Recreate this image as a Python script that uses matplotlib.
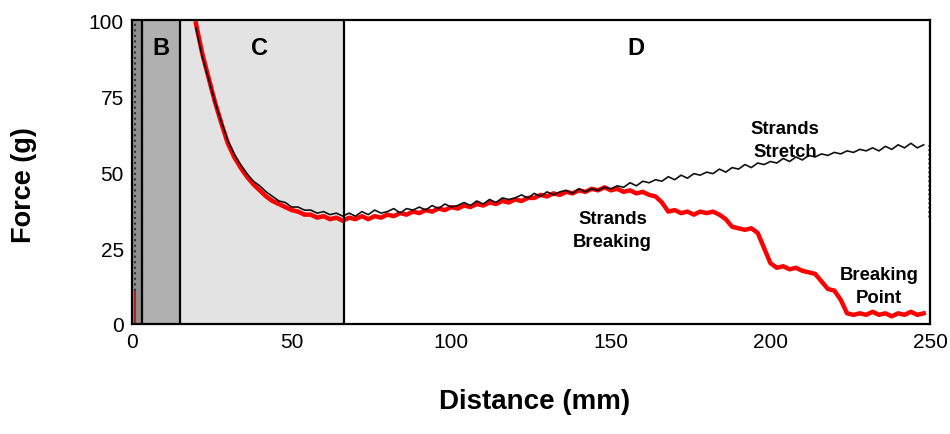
import matplotlib.pyplot as plt
import numpy as np

plt.rcParams['font.family'] = ['Liberation Sans', 'DejaVu Sans']

# distance grid (mm) for the two traces
dist = np.arange(20, 250, 2)

black_force = [97.5, 88.0, 80.5, 73.0, 66.5, 60.5, 56.0, 52.5, 49.5, 47.0,
               45.5, 43.5, 42.0, 40.5, 40.0, 38.5, 38.5, 37.5, 37.5, 36.5,
               37.0, 36.0, 36.5, 35.5, 36.5, 35.5, 37.0, 36.0, 37.5, 36.5,
               37.0, 38.0, 36.5, 38.0, 37.5, 38.5, 37.5, 39.0, 38.0, 39.5,
               38.5, 39.0, 40.0, 39.0, 40.5, 39.5, 41.0, 40.0, 41.5, 41.0,
               41.5, 42.5, 41.5, 43.0, 42.0, 43.5, 42.5, 43.5, 44.0, 43.0,
               44.5, 43.5, 44.5, 44.0, 45.0, 44.5, 45.5, 45.0, 46.5, 45.5,
               47.0, 46.5, 47.5, 47.0, 48.5, 47.5, 49.0, 48.0, 49.5, 49.0,
               50.0, 49.5, 51.0, 50.0, 51.5, 51.0, 52.5, 51.5, 53.0, 52.5,
               53.5, 53.0, 54.5, 53.5, 55.0, 54.0, 55.5, 55.0, 56.0, 55.5,
               56.5, 56.0, 57.0, 56.5, 57.5, 57.0, 58.0, 57.0, 58.5, 57.5,
               59.0, 58.0, 59.5, 58.0, 59.0]

red_force = [99, 89, 81, 73, 66, 59.5, 55, 51.5, 48.5, 46,
             44, 42, 40.5, 39.5, 38.5, 37.5, 37, 36, 36, 35,
             35.5, 34.5, 35, 34, 35, 34.5, 35.5, 34.5, 35.5, 35,
             36, 35.5, 36.5, 36, 37, 36.5, 37.5, 37, 38, 37.5,
             38.5, 38, 39, 38.5, 39.5, 39, 40, 39.5, 40.5, 40,
             41, 40.5, 41.5, 41.5, 42.5, 42, 43, 42.5, 43.5, 43,
             44, 43.5, 44.5, 44, 45, 44, 44.5, 43.5, 44, 43,
             43.5, 42.5, 42, 40, 37, 37.5, 36.5, 37, 36, 37,
             36.5, 37, 36, 34.5, 32, 31.5, 31, 31.5, 30, 25,
             20, 18.5, 19, 18, 18.5, 17.5, 17, 16.5, 14, 11.5,
             11, 8, 3.5, 3, 3.5, 3, 4, 3, 3.5, 2.5,
             3.5, 3, 4, 3, 3.5]

# loading spikes at the start and unloading drop at the end
start_x = [1.0, 1.0]
start_black = [0, 100]
start_red = [0, 10.5]
end_x = [249.7, 249.7]
end_black = [59, 35]

# region boundaries (mm) and labels
region_edges = [0, 3, 15, 66.5]
region_colors = ['#8f8f8f', '#b0b0b0', '#e3e3e3']
region_labels = ['B', 'C', 'D']
region_label_x = [9, 40, 158]

fig = plt.figure(figsize=(9.5, 4.35), dpi=100)
ax = fig.add_axes([0.139, 0.253, 0.840, 0.698])

for i in range(len(region_colors)):
    ax.axvspan(region_edges[i], region_edges[i + 1], color=region_colors[i], lw=0, zorder=0)
for e in region_edges[1:]:
    ax.axvline(e, color='black', lw=1.6, zorder=3)

ax.plot(start_x, start_black, color='#333333', lw=1.5, ls=':', zorder=2)
ax.plot(start_x, start_red, color='#b22222', lw=1.5, zorder=2)

ax.plot(dist, red_force, color='#ff0000', lw=3.2, zorder=2)
ax.plot(dist, black_force, color='#111111', lw=1.2, zorder=2)
ax.plot(end_x, end_black, color='#555555', lw=1.2, ls=':', zorder=2)

for lab, x in zip(region_labels, region_label_x):
    ax.text(x, 91, lab, ha='center', va='center', fontsize=17, fontweight='bold')

ax.text(204.5, 60.5, 'Strands\nStretch', ha='center', va='center',
        fontsize=13.3, fontweight='bold', linespacing=1.45)
ax.text(150.5, 31, 'Strands\nBreaking', ha='center', va='center',
        fontsize=13.3, fontweight='bold', linespacing=1.45)
ax.text(234, 12.5, 'Breaking\nPoint', ha='center', va='center',
        fontsize=13.3, fontweight='bold', linespacing=1.45)

ax.set_xlim(0, 250)
ax.set_ylim(0, 100)
ax.set_xticks([0, 50, 100, 150, 200, 250])
ax.set_yticks([0, 25, 50, 75, 100])
ax.tick_params(length=0, labelsize=15, pad=6)
for s in ax.spines.values():
    s.set_linewidth(1.6)

fig.text(0.563, 0.075, 'Distance (mm)', ha='center', va='center', fontsize=20, fontweight='bold')
fig.text(0.025, 0.575, 'Force (g)', ha='center', va='center', rotation=90, fontsize=19.5, fontweight='bold')

fig.savefig('out.png', dpi=100)
